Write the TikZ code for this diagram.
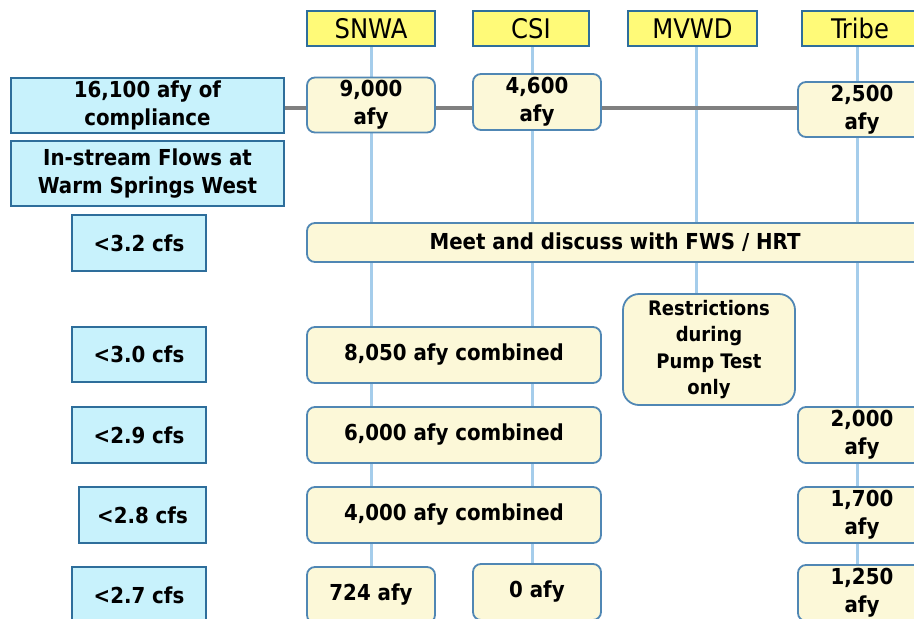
\documentclass[tikz,border=0pt]{standalone}
\usepackage{fontspec}
\setmainfont{DejaVu Sans Condensed}
\usetikzlibrary{backgrounds}

\definecolor{flowfill}{RGB}{200,242,252}
\definecolor{flowline}{RGB}{46,110,155}
\definecolor{hdrfill}{RGB}{255,250,120}
\definecolor{amtfill}{RGB}{252,248,216}
\definecolor{amtline}{RGB}{80,135,180}
\definecolor{colline}{RGB}{165,205,235}
\definecolor{linkgray}{RGB}{128,128,128}

\tikzset{
  flowbox/.style={draw=flowline, line width=2.4pt, fill=flowfill, inner sep=0pt,
    align=center, font=\fontsize{22}{28}\selectfont\bfseries},
  hdrbox/.style={draw=flowline, line width=2.4pt, fill=hdrfill, inner sep=0pt,
    minimum height=35pt, font=\fontsize{27}{30}\selectfont},
  amtbox/.style={draw=amtline, line width=1.8pt, fill=amtfill, rounded corners=8pt,
    inner sep=0pt, align=center, font=\fontsize{22}{28}\selectfont\bfseries},
  colrule/.style={draw=colline, line width=3pt},
}

\begin{document}
\begin{tikzpicture}[x=1pt, y=-1pt]
			%%%%% START %%%%%
			\useasboundingbox (0, 0) rectangle (914, 619);
			\clip (0, 0) rectangle (914, 619);
			
			% party headers
			\node[hdrbox, minimum width=128pt] (snwa) at (371, 28.5) {SNWA};
			\node[hdrbox, minimum width=116pt] (csi) at (531, 28.5) {CSI};
			\node[hdrbox, minimum width=129pt] (mvwd) at (692.5, 28.5) {MVWD};
			\node[hdrbox, minimum width=116pt] (tribe) at (860, 28.5) {Tribe};
			
			% left column
			\node[flowbox, minimum width=273pt, minimum height=55pt] (comply) at (147.5, 105.5) {16,100 afy of\\compliance};
			\node[flowbox, minimum width=273pt, minimum height=65pt] (instream) at (147.5, 173.5) {In-stream Flows at\\Warm Springs West};
			\node[flowbox, minimum width=134pt, minimum height=56pt] (cfs32) at (139, 243) {<3.2 cfs};
			\node[flowbox, minimum width=134pt, minimum height=55pt] (cfs30) at (139, 354.5) {<3.0 cfs};
			\node[flowbox, minimum width=134pt, minimum height=56pt] (cfs29) at (139, 435) {<2.9 cfs};
			\node[flowbox, minimum width=127pt, minimum height=56pt] (cfs28) at (142.5, 515) {<2.8 cfs};
			\node[flowbox, minimum width=134pt, minimum height=56pt] (cfs27) at (139, 595) {<2.7 cfs};
			
			% amounts
			\node[amtbox, minimum width=128pt, minimum height=55pt] (snwa9000) at (371, 105) {9,000\\afy};
			\node[amtbox, minimum width=128pt, minimum height=56pt] (csi4600) at (537, 102) {4,600\\afy};
			\node[amtbox, minimum width=128pt, minimum height=55pt] (tribe2500) at (862, 109.5) {2,500\\afy};
			\node[amtbox, minimum width=616pt, minimum height=39pt] (meet) at (615, 242.5) {Meet and discuss with FWS / HRT};
			\node[amtbox, minimum width=294pt, minimum height=56pt] (comb8050) at (454, 355) {8,050 afy combined};
			\node[amtbox, rounded corners=16pt, minimum width=172pt, minimum height=111pt,
			  font=\fontsize{20}{26.5}\selectfont\bfseries] (pumptest) at (709, 349.5) {Restrictions\\during\\Pump Test\\only};
			\node[amtbox, minimum width=294pt, minimum height=56pt] (comb6000) at (454, 435) {6,000 afy combined};
			\node[amtbox, minimum width=128pt, minimum height=56pt] (tribe2000) at (862, 435) {2,000\\afy};
			\node[amtbox, minimum width=294pt, minimum height=56pt] (comb4000) at (454, 515) {4,000 afy combined};
			\node[amtbox, minimum width=128pt, minimum height=56pt] (tribe1700) at (862, 515) {1,700\\afy};
			\node[amtbox, minimum width=128pt, minimum height=56pt] (snwa724) at (371, 595) {724 afy};
			\node[amtbox, minimum width=128pt, minimum height=56pt] (csi0) at (537, 592) {0 afy};
			\node[amtbox, minimum width=128pt, minimum height=56pt] (tribe1250) at (862, 593) {1,250\\afy};
			
			\coordinate (bottom) at (0, 630);
			\coordinate (linkstart) at (284, 108);
			
			\begin{scope}[on background layer]
			\fill[white] (0, 0) rectangle (914, 619);
			\draw[colrule] (snwa.south) -- (snwa.south |- bottom);
			\draw[colrule] (csi.south -| 532, 0) -- (532, 0 |- bottom);
			\draw[colrule] (mvwd.south -| 696, 0) -- (pumptest.north -| 696, 0);
			\draw[colrule] (tribe.south -| 857, 0) -- (857, 0 |- bottom);
			\draw[draw=linkgray, line width=4pt] (linkstart) -- (linkstart -| tribe2500.west);
			\end{scope}
			
			%%%%% END %%%%%
\end{tikzpicture}
\end{document}
